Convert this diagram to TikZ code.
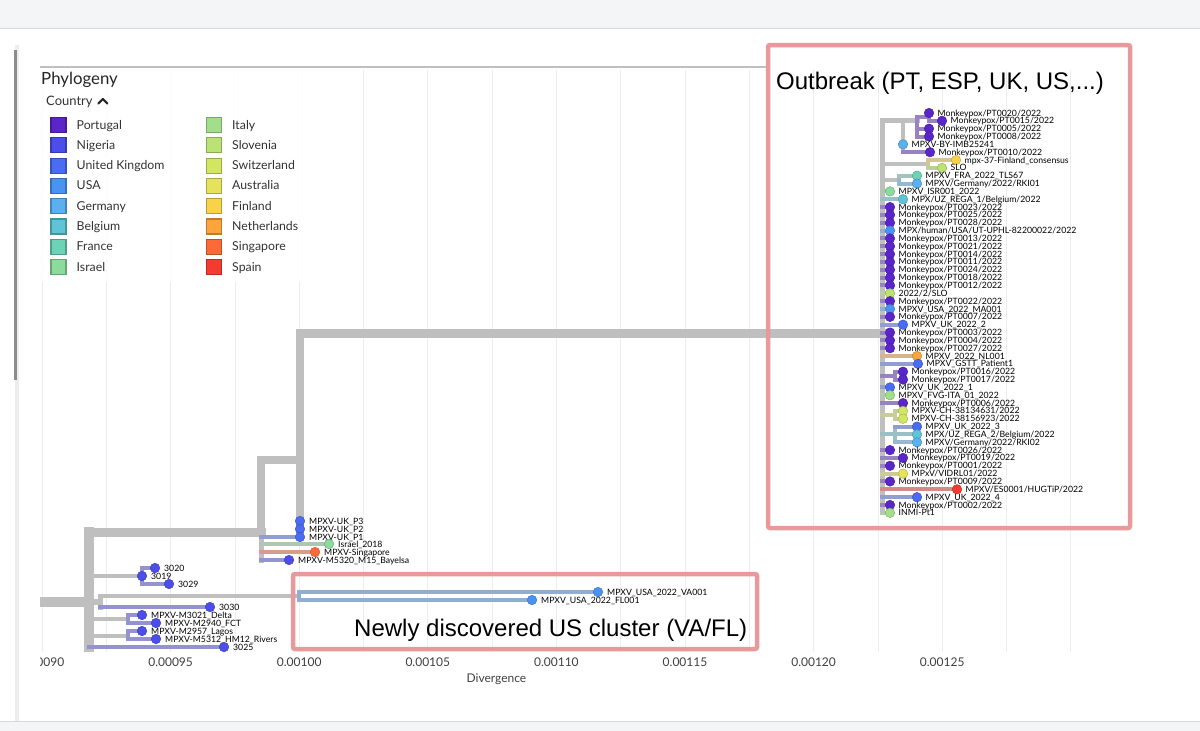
\documentclass[tikz,border=0pt]{standalone}
\usepackage{fontspec}
\setmainfont{Lato}
\newfontfamily\notefont{Liberation Sans}
\usepackage{xcolor}
\usepackage{tikz}
\usetikzlibrary{calc}

\definecolor{pt}{HTML}{5A26C9}
\definecolor{ng}{HTML}{4B4EEA}
\definecolor{uk}{HTML}{4A6CF2}
\definecolor{us}{HTML}{4B93F2}
\definecolor{de}{HTML}{5BB0F0}
\definecolor{be}{HTML}{5EC4D6}
\definecolor{fr}{HTML}{6CD3B6}
\definecolor{il}{HTML}{8BDB9C}
\definecolor{it}{HTML}{A2DE8C}
\definecolor{si}{HTML}{BBE274}
\definecolor{ch}{HTML}{D2E664}
\definecolor{au}{HTML}{E5E25C}
\definecolor{fi}{HTML}{FAD24A}
\definecolor{nl}{HTML}{FCA43E}
\definecolor{sg}{HTML}{FC6B37}
\definecolor{es}{HTML}{F43B2F}
\definecolor{callred}{HTML}{E8999B}
\definecolor{barfill}{HTML}{F4F5F7}

% tips of the outbreak clade: row/parent/x/country/name
\newcommand\outbreaktips{1/s1aa/929/pt/{Monkeypox/PT0020/2022}, 2/s1aa/942/pt/{Monkeypox/PT0015/2022},
  3/s1a/929/pt/{Monkeypox/PT0005/2022}, 4/s1a/929/pt/{Monkeypox/PT0008/2022},
  5/s1/903/de/MPXV-BY-IMB25241, 6/s1/930/pt/{Monkeypox/PT0010/2022},
  7/s2/956/fi/mpx-37-Finland\_consensus, 8/s2/942/si/SLO,
  9/s3/917/fr/MPXV\_FRA\_2022\_TLS67, 10/s3/917/de/{MPXV/Germany/2022/RKI01},
  11/nO/890/il/MPXV\_ISR001\_2022, 12/nO/903/be/{MPX/UZ\_REGA\_1/Belgium/2022},
  13/nO/890/pt/{Monkeypox/PT0023/2022}, 14/nO/890/pt/{Monkeypox/PT0025/2022},
  15/nO/890/pt/{Monkeypox/PT0028/2022}, 16/nO/890/us/{MPX/human/USA/UT-UPHL-82200022/2022},
  17/nO/890/pt/{Monkeypox/PT0013/2022}, 18/nO/890/pt/{Monkeypox/PT0021/2022},
  19/nO/890/pt/{Monkeypox/PT0014/2022}, 20/nO/890/pt/{Monkeypox/PT0011/2022},
  21/nO/890/pt/{Monkeypox/PT0024/2022}, 22/nO/890/pt/{Monkeypox/PT0018/2022},
  23/nO/890/pt/{Monkeypox/PT0012/2022}, 24/nO/890/si/{2022/2/SLO},
  25/nO/890/pt/{Monkeypox/PT0022/2022}, 26/nO/890/us/MPXV\_USA\_2022\_MA001,
  27/nO/890/pt/{Monkeypox/PT0007/2022}, 28/nO/903/uk/MPXV\_UK\_2022\_2,
  29/nO/890/pt/{Monkeypox/PT0003/2022}, 30/nO/890/pt/{Monkeypox/PT0004/2022},
  31/nO/890/pt/{Monkeypox/PT0027/2022}, 32/nO/917/nl/MPXV\_2022\_NL001,
  33/nO/918/uk/MPXV\_GSTT\_Patient1, 34/s4/903/pt/{Monkeypox/PT0016/2022},
  35/s4/903/pt/{Monkeypox/PT0017/2022}, 36/nO/890/uk/MPXV\_UK\_2022\_1,
  37/nO/890/it/MPXV\_FVG-ITA\_01\_2022, 38/nO/903/pt/{Monkeypox/PT0006/2022},
  39/s5/903/ch/{MPXV-CH-38134631/2022}, 40/s5/903/ch/{MPXV-CH-38156923/2022},
  41/s6/917/uk/MPXV\_UK\_2022\_3, 42/s6/917/be/{MPX/UZ\_REGA\_2/Belgium/2022},
  43/s6/917/de/{MPXV/Germany/2022/RKI02}, 44/nO/890/pt/{Monkeypox/PT0026/2022},
  45/nO/903/pt/{Monkeypox/PT0019/2022}, 46/nO/890/pt/{Monkeypox/PT0001/2022},
  47/nO/903/au/{MPxV/VIDRL01/2022}, 48/nO/890/pt/{Monkeypox/PT0009/2022},
  49/nO/957/es/{MPXV/ES0001/HUGTiP/2022}, 50/nO/917/uk/MPXV\_UK\_2022\_4,
  51/nO/890/pt/{Monkeypox/PT0002/2022}, 52/nO/890/it/INMI-Pt1}

% basal tips: name/parent/x/y/country/label
\newcommand\basaltips{t3020/nB/155/568/ng/3020, t3019/nB/142/576/ng/3019, t3029/nB/169/584/ng/3029,
  t3030/nC/210/607/ng/3030, tVA/nG/598/592/us/MPXV\_USA\_2022\_VA001, tFL/nG/532/600/us/MPXV\_USA\_2022\_FL001,
  tDel/nD/142/615/ng/MPXV-M3021\_Delta, tFCT/nD/156/623/ng/MPXV-M2940\_FCT,
  tLag/nE/142/631/ng/MPXV-M2957\_Lagos, tRiv/nE/156/639/ng/MPXV-M5312\_HM12\_Rivers,
  t3025/n0/224/647/ng/3025, tP3/nF/300/521/uk/MPXV-UK\_P3, tP2/nF/300/529/uk/MPXV-UK\_P2,
  tP1/nA/300/537/uk/MPXV-UK\_P1, tIsr/nA/329/544/il/Israel\_2018,
  tSin/nA/315/552/sg/MPXV-Singapore, tBay/nA/289/560/ng/MPXV-M5320\_M15\_Bayelsa}

\begin{document}
\begin{tikzpicture}[x=1pt, y=-1pt,
    grid/.style = {draw=black!7, line width=0.8pt},
    branch/.style = {draw=gray!50, line cap=rect},
    tipbr/.style = {draw=#1!55!gray!70, line width=4pt, line cap=rect},
    cladebr/.style = {draw=#1!55!gray!70, line width=4pt, line cap=rect},
    tipdot/.style = {circle, inner sep=0pt, minimum size=9.5pt, fill=#1, draw=#1!80!black, line width=0.5pt},
    tiplbl/.style = {font=\fontsize{8.7}{9}\selectfont, text=black, inner sep=0pt, anchor=base west},
    legbox/.style = {rectangle, inner sep=0pt, minimum size=15pt, fill=#1, draw=#1!75!black, line width=1.1pt},
    legtxt/.style = {font=\fontsize{12.3}{14}\selectfont, text=black!80, inner sep=0pt, anchor=base west},
    ticklbl/.style = {font=\fontsize{12}{14}\selectfont, text=black!75, inner sep=0pt, anchor=base},
    callout/.style = {draw=callred, line width=4.5pt, rounded corners=2pt},
    calltxt/.style = {font=\notefont\fontsize{24}{27}\selectfont, inner sep=0pt, anchor=base west}
  ]
  \useasboundingbox (0,0) rectangle (1200,731);
  \fill[white] (0,0) rectangle (1200,731);
  \fill[barfill] (0,0) rectangle (1200,28);
  \draw[black!15, line width=1pt] (0,28) -- (1200,28);
  \fill[barfill] (0,721) rectangle (1200,731);
  \draw[black!15, line width=1pt] (0,721) -- (1200,721);
  \draw[black!7, line width=4pt] (17,45) -- (17,721);
  \draw[black!45, line width=3pt] (15,50) -- (15,380);

  % grid and axis
  \foreach \k in {0,...,16}
    \draw[grid] ({42+64.3*\k},70) -- ({42+64.3*\k},652);
  \begin{scope}
    \clip (40,640) rectangle (300,700);
    \node[ticklbl] (x0) at (42,666.3) {0.00090};
  \end{scope}
  \foreach \k/\t in {1/0.00095, 2/0.00100, 3/0.00105, 4/0.00110, 5/0.00115, 6/0.00120, 7/0.00125}
    \node[ticklbl] (x\k) at ({42+128.6*\k},666.3) {\t};
  \node[ticklbl] (xlab) at (496.5,682.5) {Divergence};

  % legend
  \fill[white, opacity=0.85] (38,68) rectangle (335,282);
  \draw[black!25, line width=1.2pt] (40,67) -- (768,67);
  \node[inner sep=0pt, anchor=base west, font=\fontsize{16.8}{19}\selectfont, text=black!85] (title) at (41,84) {Phylogeny};
  \node[inner sep=0pt, anchor=base west, font=\fontsize{13}{15}\selectfont, text=black!80] (ctry) at (46,105.5) {Country};
  \draw[black!85, line width=2.2pt, line cap=round, line join=round] ($(ctry.base east)+(5.5,-2)$) -- ++(4.5,-4.5) -- ++(4.5,4.5);
  \foreach \c/\name [count=\i from 0] in {pt/Portugal, ng/Nigeria, uk/United Kingdom, us/USA, de/Germany, be/Belgium, fr/France, il/Israel} {
    \node[legbox=\c] (k\c) at (58.5,{125+\i*20.3}) {};
    \node[legtxt] (kt\c) at (76.5,{129+\i*20.3}) {\name};
  }
  \foreach \c/\name [count=\i from 0] in {it/Italy, si/Slovenia, ch/Switzerland, au/Australia, fi/Finland, nl/Netherlands, sg/Singapore, es/Spain} {
    \node[legbox=\c] (k\c) at (214,{125+\i*20.3}) {};
    \node[legtxt] (kt\c) at (232,{129+\i*20.3}) {\name};
  }

  % basal part of the tree
  \coordinate (root) at (40,602);
  \coordinate (n0) at (89,602);
  \coordinate (nA) at (261,532);
  \coordinate (nF) at (300,460);
  \coordinate (nB) at (142,576);
  \coordinate (nC) at (100,602);
  \coordinate (nG) at (299,596);
  \coordinate (nD) at (128,619);
  \coordinate (nE) at (128,636);
  \coordinate (nO) at (882,333);
  \foreach \nm/\p/\x/\y/\c/\l in \basaltips
    \coordinate (\nm) at (\x,\y);

  \draw[branch, line width=10pt, line cap=butt] (root) -- (n0);
  \draw[branch, line width=10pt] (n0 |- nA) -- (n0 |- t3025);
  \draw[branch, line width=9pt] (n0 |- nA) -- (nA);
  \draw[branch, line width=8pt] (nA |- nF) -- (nA);
  \draw[branch, line width=5pt] (nA) -- (nA |- tBay);
  \draw[branch, line width=8pt] (nA |- nF) -- (nF);
  \draw[branch, line width=8pt] (nF |- nO) -- (nF |- tP2);
  \draw[branch, line width=9pt] (nF |- nO) -- (nO);
  \draw[branch, line width=4.5pt] (n0 |- nB) -- (nB);
  \draw[cladebr=ng] (nB |- t3020) -- (nB |- t3029);
  \draw[branch, line width=6pt] (n0 |- nC) -- (nC);
  \draw[branch, line width=5pt] (nC |- nG) -- (nC |- t3030);
  \draw[branch, line width=4.5pt] (nC |- nG) -- (nG);
  \draw[cladebr=us] (nG |- tVA) -- (nG |- tFL);
  \draw[branch, line width=4.5pt] (n0 |- nD) -- (nD);
  \draw[cladebr=ng] (nD |- tDel) -- (nD |- tFCT);
  \draw[branch, line width=4.5pt] (n0 |- nE) -- (nE);
  \draw[cladebr=ng] (nE |- tLag) -- (nE |- tRiv);

  \foreach \nm/\p/\x/\y/\c/\l in \basaltips {
    \draw[tipbr=\c] (\p |- \nm) -- (\nm);
    \node[tipdot=\c] (d\nm) at (\nm) {};
    \node[tiplbl] (l\nm) at ($(\nm)+(9,3)$) {\l};
  }

  % outbreak clade
  \foreach \n/\p/\x/\c/\l in \outbreaktips
    \coordinate (o\n) at (\x,{113+(\n-1)*7.84});
  \coordinate (s1) at (903,120);
  \coordinate (s1a) at (917,120);
  \coordinate (s1aa) at (929,117);
  \coordinate (s2) at (928,164);
  \coordinate (s3) at (899,180);
  \coordinate (s4) at (895,375.6);
  \coordinate (s5) at (895,414.8);
  \coordinate (s6) at (895,434.4);

  \draw[branch, line width=5pt] (nO |- s1) -- (nO |- o52);
  \draw[branch, line width=5pt] (nO |- s1) -- (s1a);
  \draw[branch, line width=4.5pt] (s1) -- (s1 |- o6);
  \draw[cladebr=pt] (s1a |- s1aa) -- (s1a |- o4);
  \draw[cladebr=pt] (s1a |- s1aa) -- (s1aa);
  \draw[cladebr=pt] (s1aa |- o1) -- (s1aa |- o2);
  \draw[branch, line width=4.5pt] (nO |- s2) -- (s2);
  \draw[cladebr=fi] (s2 |- o7) -- (s2 |- o8);
  \draw[branch, line width=4.5pt] (nO |- s3) -- (s3);
  \draw[cladebr=de] (s3 |- o9) -- (s3 |- o10);
  \draw[cladebr=pt] (nO |- s4) -- (s4);
  \draw[cladebr=pt] (s4 |- o34) -- (s4 |- o35);
  \draw[cladebr=ch] (nO |- s5) -- (s5);
  \draw[cladebr=ch] (s5 |- o39) -- (s5 |- o40);
  \draw[cladebr=be] (nO |- s6) -- (s6);
  \draw[cladebr=be] (s6 |- o41) -- (s6 |- o43);

  \foreach \n/\p/\x/\c/\l in \outbreaktips {
    \draw[tipbr=\c] (\p |- o\n) -- (o\n);
    \node[tipdot=\c] (d\n) at (o\n) {};
    \node[tiplbl] (l\n) at ($(o\n)+(8.5,3)$) {\l};
  }

  % annotations
  \draw[callout] (768,45) rectangle (1130,528);
  \node[calltxt] (obtxt) at (776,89) {Outbreak (PT, ESP, UK, US,...)};
  \draw[callout] (293,574) rectangle (757,649);
  \node[calltxt] (ustxt) at (354,636) {Newly discovered US cluster (VA/FL)};
\end{tikzpicture}
\end{document}
